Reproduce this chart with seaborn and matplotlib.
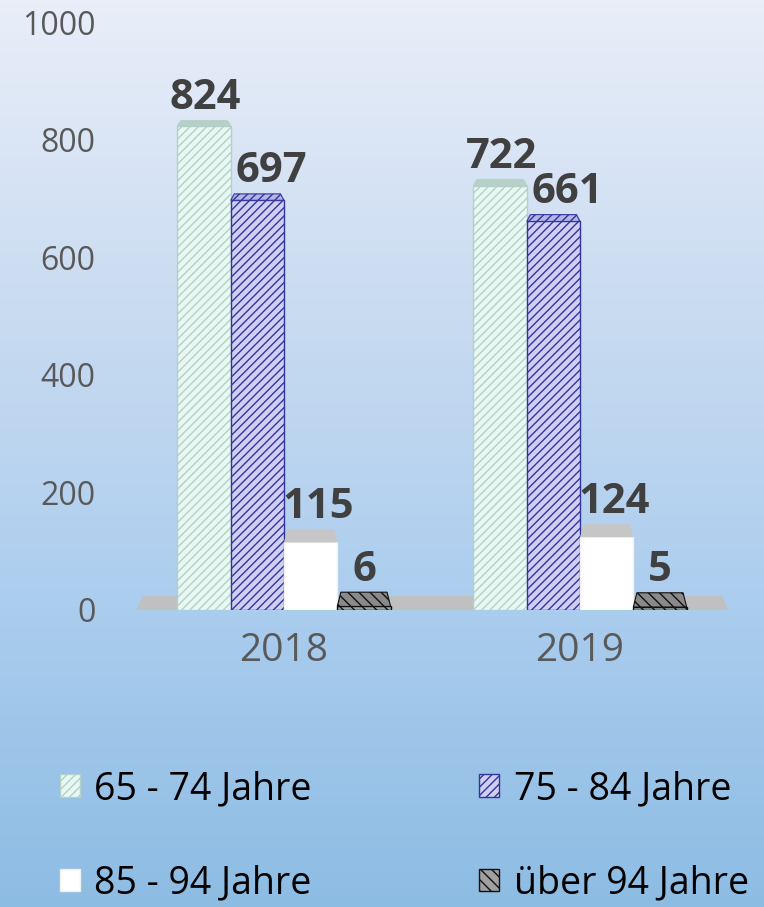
import numpy as np
import pandas as pd
import matplotlib.pyplot as plt
import seaborn as sns
from matplotlib.colors import LinearSegmentedColormap
from matplotlib.patches import Polygon

# Daten
jahre = ["2018", "2019"]
gruppen = ["65 - 74 Jahre", "75 - 84 Jahre", "85 - 94 Jahre", "über 94 Jahre"]
werte_2018 = [824, 697, 115, 6]
werte_2019 = [722, 661, 124, 5]
y_ticks = [0, 200, 400, 600, 800, 1000]

# Stil
fill_colors = ["#e9f8f3", "#cfcff3", "#ffffff", "#a0a0a0"]
edge_colors = ["#b3d1c8", "#34349e", "#f0f0f0", "#111111"]
cap_colors = ["#b9d0c8", "#b4b4e6", "#c6c6c6", "#8a8a8a"]
hatches = ["////", "////", "", "\\\\\\"]
label_dx_px = [1, 14, 8, 0]

df = pd.DataFrame({
    "Jahr": np.repeat(jahre, len(gruppen)),
    "Gruppe": gruppen * len(jahre),
    "Anzahl": werte_2018 + werte_2019,
})

sns.set_theme(style="white")
plt.rcParams["font.family"] = ["Open Sans", "DejaVu Sans"]
plt.rcParams["hatch.linewidth"] = 1.0

fig = plt.figure(figsize=(7.64, 9.07), dpi=100)

# Hintergrund mit Farbverlauf
bg = fig.add_axes([0, 0, 1, 1], zorder=-10)
cmap = LinearSegmentedColormap.from_list(
    "bg", [(0, "#8dbce3"), (0.33, "#abcdee"), (0.67, "#cadcf1"), (1, "#e9eef9")])
bg.imshow(np.linspace(0, 1, 256).reshape(-1, 1), aspect="auto", cmap=cmap,
          origin="lower", extent=[0, 1, 0, 1])
bg.axis("off")

ax = fig.add_axes([0.178, 0.3275, 0.775, 0.648])
ax.patch.set_alpha(0)
sns.barplot(data=df, x="Jahr", y="Anzahl", hue="Gruppe", palette=fill_colors,
            width=0.72, saturation=1, ax=ax, legend=False)

ax.set_ylim(0, 1000)
ax.set_yticks(y_ticks)
ax.set_xlabel("")
ax.set_ylabel("")
sns.despine(ax=ax, left=True, bottom=True)
ax.tick_params(axis="y", length=0, pad=29, labelsize=23, labelcolor="#595959")
ax.tick_params(axis="x", length=0, pad=16, labelsize=28, labelcolor="#595959")

# Boden
xl = ax.get_xlim()
floor = Polygon([(xl[0], 0), (xl[1], 0), (xl[1] - 0.02, 24), (xl[0] + 0.025, 24)],
                closed=True, facecolor="#c0c0c0", edgecolor="none", zorder=0.5)
ax.add_patch(floor)

px_per_unit = ax.bbox.height / 1000
for i, cont in enumerate(ax.containers):
    for p, v in zip(cont.patches, cont.datavalues):
        p.set_edgecolor(edge_colors[i])
        p.set_hatch(hatches[i])
        p.set_linewidth(1.0)
        p.set_zorder(2)
        x0, w, h = p.get_x(), p.get_width(), p.get_height()
        ch = (3 + 0.0113 * (1000 - v)) / px_per_unit
        inset = 0.012
        cap = Polygon([(x0, h), (x0 + w, h), (x0 + w - inset, h + ch), (x0 + inset, h + ch)],
                      closed=True, facecolor=cap_colors[i],
                      edgecolor=edge_colors[i] if hatches[i] else "none",
                      hatch=hatches[i], linewidth=0.8, zorder=2.1, clip_on=False)
        ax.add_patch(cap)
        ax.annotate(f"{v:.0f}", xy=(x0 + w / 2, h + ch),
                    xytext=(label_dx_px[i] / 1.389, 1), textcoords="offset points",
                    ha="center", va="bottom", fontsize=30, fontweight="bold",
                    color="#404040", annotation_clip=False, zorder=5)

handles = [ax.containers[k] for k in (0, 2, 1, 3)]
labels = [gruppen[k] for k in (0, 2, 1, 3)]
fig.legend(handles, labels, ncol=2, loc="upper left", bbox_to_anchor=(0.078, 0.151),
           frameon=False, fontsize=27, handlelength=0.55, handleheight=0.55,
           handletextpad=0.38, columnspacing=4.45, labelspacing=1.5,
           borderpad=0, borderaxespad=0, labelcolor="#000000")

fig.savefig("out.png", dpi=100)
